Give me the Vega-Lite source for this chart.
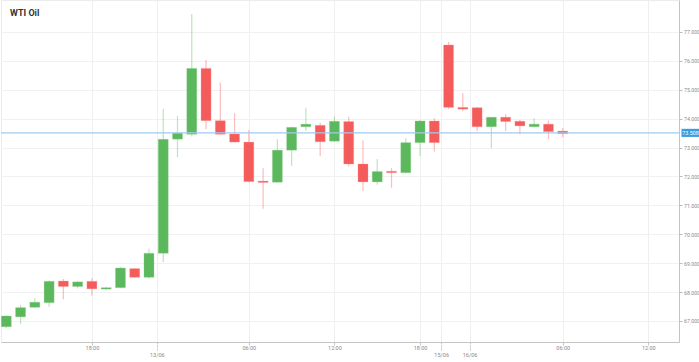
{
  "$schema": "https://vega.github.io/schema/vega-lite/v6.json",
  "width": 678,
  "height": 342,
  "padding": 0,
  "autosize": {"type": "pad"},
  "background": "white",
  "title": {"text": "WTI Oil", "anchor": "start", "frame": "group", "offset": -18, "dx": 9, "fontSize": 9, "fontWeight": "bold", "color": "#333333", "font": "Roboto"},
  "config": {
    "view": {"stroke": "#ececec"},
    "font": "Roboto",
    "axis": {"labelOverlap": false},
    "axisY": {"labelFontSize": 5.3, "labelColor": "#8a8a8a", "tickSize": 3, "tickColor": "#bdbdbd", "labelPadding": 1.5, "domainColor": "#c4c4c4", "gridColor": "#f1f1f1", "labelFont": "Roboto", "labelOverlap": false, "labelBound": false}
  },
  "data": {"values": [
    {"i": 0, "open": 66.80, "high": 67.20, "low": 66.75, "close": 67.17},
    {"i": 1, "open": 67.14, "high": 67.55, "low": 66.89, "close": 67.46},
    {"i": 2, "open": 67.47, "high": 67.79, "low": 67.45, "close": 67.65},
    {"i": 3, "open": 67.63, "high": 68.40, "low": 67.49, "close": 68.37},
    {"i": 4, "open": 68.38, "high": 68.45, "low": 67.75, "close": 68.19},
    {"i": 5, "open": 68.19, "high": 68.37, "low": 68.12, "close": 68.35},
    {"i": 6, "open": 68.37, "high": 68.48, "low": 67.88, "close": 68.11},
    {"i": 7, "open": 68.10, "high": 68.17, "low": 68.08, "close": 68.15},
    {"i": 8, "open": 68.15, "high": 68.87, "low": 68.13, "close": 68.83},
    {"i": 9, "open": 68.81, "high": 68.83, "low": 68.49, "close": 68.51},
    {"i": 10, "open": 68.51, "high": 69.51, "low": 68.46, "close": 69.34},
    {"i": 11, "open": 69.34, "high": 74.34, "low": 69.03, "close": 73.29},
    {"i": 12, "open": 73.29, "high": 74.09, "low": 72.66, "close": 73.50},
    {"i": 13, "open": 73.46, "high": 77.62, "low": 73.38, "close": 75.74},
    {"i": 14, "open": 75.74, "high": 76.03, "low": 73.64, "close": 73.93},
    {"i": 15, "open": 73.93, "high": 75.25, "low": 73.45, "close": 73.46},
    {"i": 16, "open": 73.47, "high": 74.19, "low": 73.18, "close": 73.19},
    {"i": 17, "open": 73.19, "high": 73.61, "low": 71.80, "close": 71.82},
    {"i": 18, "open": 71.84, "high": 72.28, "low": 70.88, "close": 71.79},
    {"i": 19, "open": 71.80, "high": 73.29, "low": 71.78, "close": 72.91},
    {"i": 20, "open": 72.91, "high": 73.72, "low": 72.37, "close": 73.70},
    {"i": 21, "open": 73.72, "high": 74.38, "low": 73.58, "close": 73.81},
    {"i": 22, "open": 73.77, "high": 73.86, "low": 72.71, "close": 73.20},
    {"i": 23, "open": 73.22, "high": 74.08, "low": 73.20, "close": 73.91},
    {"i": 24, "open": 73.90, "high": 74.07, "low": 72.34, "close": 72.43},
    {"i": 25, "open": 72.43, "high": 73.24, "low": 71.50, "close": 71.81},
    {"i": 26, "open": 71.81, "high": 72.60, "low": 71.71, "close": 72.17},
    {"i": 27, "open": 72.18, "high": 72.29, "low": 71.61, "close": 72.13},
    {"i": 28, "open": 72.13, "high": 73.32, "low": 72.10, "close": 73.17},
    {"i": 29, "open": 73.17, "high": 73.95, "low": 72.71, "close": 73.92},
    {"i": 30, "open": 73.92, "high": 74.01, "low": 72.86, "close": 73.17},
    {"i": 31, "open": 76.55, "high": 76.66, "low": 74.33, "close": 74.39},
    {"i": 32, "open": 74.39, "high": 74.88, "low": 74.27, "close": 74.33},
    {"i": 33, "open": 74.38, "high": 74.40, "low": 73.57, "close": 73.72},
    {"i": 34, "open": 73.72, "high": 74.06, "low": 72.98, "close": 74.05},
    {"i": 35, "open": 74.05, "high": 74.15, "low": 73.57, "close": 73.90},
    {"i": 36, "open": 73.91, "high": 73.96, "low": 73.46, "close": 73.75},
    {"i": 37, "open": 73.72, "high": 74.01, "low": 73.70, "close": 73.81},
    {"i": 38, "open": 73.81, "high": 73.93, "low": 73.30, "close": 73.55},
    {"i": 39, "open": 73.57, "high": 73.67, "low": 73.36, "close": 73.48}
  ]},
  "layer": [
    {
      "mark": {"type": "rule", "clip": true, "strokeWidth": 1.2, "opacity": 0.4},
      "encoding": {
        "x": {"field": "i", "type": "quantitative", "scale": {"domain": [-0.0207, 46.8], "nice": false, "zero": false},
          "axis": {"orient": "bottom", "title": null, "values": [6, 17, 23, 29, 39, 45],
            "labelExpr": "datum.value == 6 || datum.value == 29 ? '18:00' : (datum.value == 17 || datum.value == 39 ? '06:00' : '12:00')",
            "labelFontSize": 5.5, "labelColor": "#8a8a8a", "labelFont": "Roboto", "tickSize": 3, "tickColor": "#c4c4c4", "labelPadding": 0,
            "domainColor": "#c4c4c4", "grid": true, "gridColor": "#efefef", "labelFlush": false}},
        "y": {"field": "low", "type": "quantitative", "scale": {"domain": [66.27, 78.107], "nice": false, "zero": false},
          "axis": {"orient": "right", "title": null, "values": [67, 68, 69, 70, 71, 72, 73, 74, 75, 76, 77], "format": ".3f", "grid": true, "labelOverlap": false, "labelBound": false, "labelFontSize": 5.3, "labelPadding": 1.5}},
        "y2": {"field": "high"},
        "color": {"condition": {"test": "datum.close >= datum.open", "value": "#5cb85c"}, "value": "#f45b5b"}
      }
    },
    {
      "mark": {"type": "bar", "clip": true, "size": 10, "strokeWidth": 0.6, "strokeOpacity": 0.5},
      "encoding": {
        "x": {"field": "i", "type": "quantitative",
          "axis": {"orient": "bottom", "title": null, "values": [10.55, 30.48, 32.47],
            "labelExpr": "datum.value < 20 ? '13/06' : (datum.value < 31 ? '15/06' : '16/06')",
            "labelFontSize": 5.5, "labelColor": "#8a8a8a", "labelFont": "Roboto", "tickSize": 8, "tickColor": "#c4c4c4", "tickDash": [2, 1], "labelPadding": 2,
            "domain": false, "grid": true, "gridColor": "#efefef", "labelFlush": false}},
        "y": {"field": "open", "type": "quantitative", "axis": null},
        "y2": {"field": "close"},
        "color": {"condition": {"test": "datum.close >= datum.open", "value": "#5cb85c"}, "value": "#f45b5b"},
        "stroke": {"condition": {"test": "datum.close >= datum.open", "value": "#8fd08f"}, "value": "#ff9a9a"}
      }
    },
    {
      "data": {"values": [{"price": 73.508}]},
      "layer": [
        {
          "mark": {"type": "rule", "color": "#9fcbee", "strokeWidth": 1.2},
          "encoding": {"y": {"field": "price", "type": "quantitative", "axis": null}}
        },
        {
          "mark": {"type": "point", "shape": "M-1,-0.45H1V0.45H-1Z", "size": 324, "filled": true, "color": "#3d9be0", "opacity": 1, "xOffset": 11.5},
          "encoding": {"x": {"value": "width"}, "y": {"field": "price", "type": "quantitative", "axis": null}}
        },
        {
          "mark": {"type": "text", "color": "white", "fontSize": 5.3, "align": "center", "baseline": "middle", "xOffset": 11.5, "font": "Roboto"},
          "encoding": {"x": {"value": "width"}, "y": {"field": "price", "type": "quantitative", "axis": null}, "text": {"field": "price", "type": "quantitative", "format": ".3f"}}
        }
      ]
    }
  ],
  "resolve": {"axis": {"x": "independent", "y": "independent"}}
}
